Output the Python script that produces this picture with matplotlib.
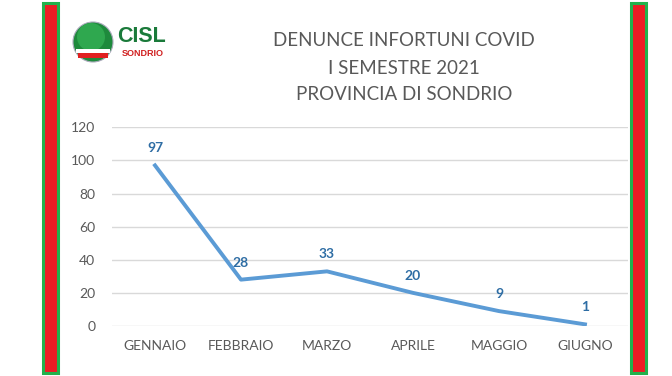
import numpy as np
import matplotlib
matplotlib.use("Agg")
import matplotlib.pyplot as plt
from matplotlib.patches import Rectangle, Circle

plt.rcParams['font.family'] = ['Lato', 'DejaVu Sans']

# data
months = ["GENNAIO", "FEBBRAIO", "MARZO", "APRILE", "MAGGIO", "GIUGNO"]
cases = [97, 28, 33, 20, 9, 1]
title_lines = ["DENUNCE INFORTUNI COVID", "I SEMESTRE 2021", "PROVINCIA DI SONDRIO"]

W, H = 672, 376
fig = plt.figure(figsize=(W / 100, H / 100), dpi=100)
fig.patch.set_facecolor("white")

# side bars (green frame, red fill)
for x0 in (43, 631):
    fig.patches.append(Rectangle((x0 / W, 3 / H), 15 / W, 370 / H, transform=fig.transFigure,
                                 facecolor="#ED1C24", edgecolor="#22B14C", linewidth=2.2, zorder=5))

# logo
logo = fig.add_axes([70 / W, (376 - 65) / H, 46 / W, 46 / H])
logo.set_xlim(-1.15, 1.15)
logo.set_ylim(-1.15, 1.15)
logo.set_aspect("equal")
logo.axis("off")
logo.add_patch(Circle((0, 0), 1.0, facecolor="#1E8A3C", edgecolor="#aab", linewidth=0.8))
logo.add_patch(Circle((-0.1, 0.25), 0.7, facecolor="#2FA84F", edgecolor="none"))
logo.add_patch(Rectangle((-0.85, -0.55), 1.7, 0.22, facecolor="white", edgecolor="none"))
logo.add_patch(Rectangle((-0.75, -0.78), 1.5, 0.23, facecolor="#E02020", edgecolor="none"))
fig.text(117 / W, 1 - 36 / H, "CISL", color="#1A7A3A", fontsize=15.5, fontweight="bold",
         va="center", ha="left", family=["Liberation Sans", "DejaVu Sans"])
fig.text(122 / W, 1 - 53 / H, "SONDRIO", color="#D02020", fontsize=6.5, fontweight="bold",
         va="center", ha="left", family=["Liberation Sans", "DejaVu Sans"])

# title
for i, line in enumerate(title_lines):
    fig.text(404 / W, 1 - (41 + 27 * i) / H, line, ha="center", va="center",
             fontsize=13.5, color="#595959")

# chart
ax = fig.add_axes([112 / W, 50 / H, 516 / W, (326 - 127.3) / H])
x = np.arange(len(months))
ax.plot(x, cases, color="#5B9BD5", linewidth=2.8, solid_joinstyle="round")
for xi, v in zip(x, cases):
    ax.annotate(str(v), (xi, v), xytext=(0, 8), textcoords="offset points",
                ha="center", va="bottom", fontsize=10, fontweight="bold", color="#2E6DA4")
ax.set_xlim(-0.5, len(months) - 0.5)
ax.set_ylim(0, 120)
ax.set_yticks(range(0, 121, 20))
ax.set_xticks(x)
ax.set_xticklabels(months)
ax.grid(axis="y", color="#D9D9D9", linewidth=1)
ax.set_axisbelow(True)
for s in ax.spines.values():
    s.set_visible(False)
ax.tick_params(length=0, colors="#595959", labelsize=10)
ax.tick_params(axis="x", pad=10)
ax.tick_params(axis="y", pad=12)

fig.savefig("out.png", dpi=100)
